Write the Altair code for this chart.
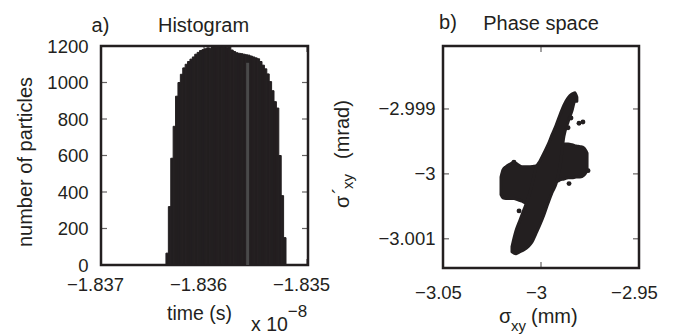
import altair as alt
import pandas as pd

INK = "#231f20"
GREY = "#4a4a4a"
FONT = "Liberation Sans"

# ---------------- panel a) histogram ----------------
bin_time = [-1.8363573, -1.8363340, -1.8363107, -1.8362874, -1.8362641, -1.8362408,
            -1.8362175, -1.8361942, -1.8361709, -1.8361476, -1.8361243, -1.8361010,
            -1.8360777, -1.8360544, -1.8360311, -1.8360078, -1.8359845, -1.8359612,
            -1.8359379, -1.8359146, -1.8358913, -1.8358680, -1.8358447, -1.8358214,
            -1.8357981, -1.8357748, -1.8357515, -1.8357282, -1.8357049, -1.8356816,
            -1.8356583, -1.8356350, -1.8356117, -1.8355884, -1.8355651, -1.8355418,
            -1.8355185, -1.8354952, -1.8354719, -1.8354486, -1.8354253, -1.8354020,
            -1.8353787, -1.8353554, -1.8353321, -1.8353088, -1.8352855, -1.8352622,
            -1.8352389, -1.8352156]
bin_count = [65, 320, 585, 760, 925, 1000, 1045, 1080, 1100, 1115,
             1128, 1140, 1155, 1165, 1175, 1180, 1185, 1190, 1188, 1195,
             1192, 1198, 1205, 1195, 1200, 1193, 1205, 1178, 1170, 1163,
             1160, 1158, 1155, 1152, 1150, 1145, 1140, 1135, 1130, 1115,
             1095, 1075, 1047, 1005, 955, 895, 860, 600, 380, 150]
bin_half_width = 0.0000120
marker_time = [-1.835576]
marker_count = [1108]
a_xticks = [-1.837, -1.836, -1.835]
a_yticks = [0, 200, 400, 600, 800, 1000, 1200]

# ---------------- panel b) phase space ----------------
band_x = [-3.0148, -3.0128, -3.0107, -3.0087, -3.0066, -3.0046, -3.0026, -3.0005, -2.9985,
          -2.9964, -2.9944, -2.9923, -2.9903, -2.9883, -2.9862, -2.9842, -2.9827, -2.9817]
band_top = [-3.00112, -3.00088, -3.00071, -3.00055, -3.00038, -3.00017, -2.99991, -2.99980, -2.99968,
            -2.99955, -2.99940, -2.99925, -2.99909, -2.99894, -2.99883, -2.99877, -2.99875, -2.99882]
band_bottom = [-3.00120, -3.00123, -3.00120, -3.00117, -3.00112, -3.00105, -3.00092, -3.00078, -3.00063,
               -3.00045, -3.00029, -3.00015, -2.99988, -2.99942, -2.99920, -2.99903, -2.99888, -2.99888]
core_x = [-3.0204, -3.0194, -3.0179, -3.0158, -3.0138, -3.0117, -3.0097, -3.0077, -3.0056, -3.0026,
          -2.9985, -2.9944, -2.9913, -2.9903, -2.9883, -2.9862, -2.9842, -2.9821, -2.9801, -2.9781, -2.9765]
core_top = [-3.00005, -2.99994, -2.99989, -2.99985, -2.99982, -2.99986, -2.99989, -2.99989, -2.99989, -2.99988,
            -2.99985, -2.99980, -2.99965, -2.99957, -2.99954, -2.99954, -2.99955, -2.99957, -2.99958, -2.99960, -2.99968]
core_bottom = [-3.00032, -3.00037, -3.00038, -3.00038, -3.00038, -3.00040, -3.00042, -3.00045, -3.00042, -3.00034,
               -3.00023, -3.00014, -3.00011, -3.00009, -3.00008, -3.00006, -3.00006, -3.00005, -3.00005, -3.00002, -2.99995]
stray_x = [-2.9847, -2.9806, -2.9786, -2.9862, -2.9760, -2.9857, -3.0112, -3.0138]
stray_y = [-2.99914, -2.99922, -2.99920, -2.99929, -2.99995, -3.00015, -3.00057, -2.99982]
b_xticks = [-3.05, -3.0, -2.95]
b_yticks = [-3.001, -3.0, -2.999]

WA, HA = 207, 219
WB, HB = 196, 222


def label(text, x, y, size=20, angle=0, align="center"):
    return alt.Chart(pd.DataFrame({"t": [text]})).mark_text(
        x=x, y=y, fontSize=size, angle=angle, align=align,
        baseline="alphabetic", font=FONT, color=INK
    ).encode(text="t:N")


def axis(vals, fmt, pad, offset=0):
    return alt.Axis(values=vals, format=fmt, title=None, ticks=False, domain=False, grid=False,
                    labelPadding=pad, labelOffset=offset, labelFlush=False, labelOverlap=False,
                    labelFont=FONT, labelFontSize=18.5, labelColor=INK)


def inner_ticks(xvals, yvals, xs, ys, xaxis, yaxis, w, h):
    dx = pd.DataFrame({"v": xvals})
    dy = pd.DataFrame({"v": yvals})
    out = []
    for yy in (3, h - 3):
        out.append(alt.Chart(dx).mark_tick(color=INK, size=6, thickness=1.2, orient="vertical")
                   .encode(x=alt.X("v:Q", scale=xs, axis=xaxis), y=alt.value(yy)))
    for xx in (3, w - 3):
        out.append(alt.Chart(dy).mark_tick(color=INK, size=6, thickness=1.2, orient="horizontal")
                   .encode(y=alt.Y("v:Q", scale=ys, axis=yaxis), x=alt.value(xx)))
    return out


# ----- panel a -----
xa = alt.Scale(domain=[-1.837, -1.83499], nice=False, zero=False)
ya = alt.Scale(domain=[0, 1200], nice=False, zero=False)
ax_a = axis(a_xticks, "~g", 10, -6)
ay_a = axis(a_yticks, "d", 13)

hist_df = pd.DataFrame({"time": bin_time, "count": bin_count})
bars = alt.Chart(hist_df).transform_calculate(
    lo=f"datum.time - {bin_half_width}", hi=f"datum.time + {bin_half_width}", base="0"
).mark_rect(color=INK, stroke=INK, strokeWidth=1, clip=True).encode(
    x=alt.X("lo:Q", scale=xa, axis=ax_a),
    x2="hi:Q",
    y=alt.Y("count:Q", scale=ya, axis=ay_a),
    y2="base:Q",
)
marker = alt.Chart(pd.DataFrame({"time": marker_time, "count": marker_count})).transform_calculate(
    base="0").mark_rule(color=GREY, strokeWidth=3).encode(
    x=alt.X("time:Q", scale=xa, axis=ax_a), y=alt.Y("count:Q", scale=ya, axis=ay_a), y2="base:Q")

panel_a = alt.layer(
    bars, marker,
    *inner_ticks(a_xticks, a_yticks, xa, ya, ax_a, ay_a, WA, HA),
    label("a)", -0.5, -14.5),
    label("Histogram", 102.5, -14),
    label("time (s)", 98.5, 274, 19.5),
    label("x 10", 150, 285, 19.5, align="left"),
    label("\u22128", 186.7, 271, 17, align="left"),
    label("number of particles", -69, 116, 20, angle=270),
).properties(width=WA, height=HA, view=alt.ViewBackground(stroke=INK, strokeWidth=2.5))

# ----- panel b -----
xb = alt.Scale(domain=[-3.05, -2.95], nice=False, zero=False)
yb = alt.Scale(domain=[-3.00145, -2.99803], nice=False, zero=False)
ax_b = axis(b_xticks, "~g", 15, -5)
ay_b = axis(b_yticks, "~g", 8)

band = alt.Chart(pd.DataFrame({"x": band_x, "top": band_top, "bottom": band_bottom})).mark_area(
    color=INK, stroke=INK, strokeWidth=3, strokeJoin="round", interpolate="monotone",
    orient="vertical", clip=True).encode(
    x=alt.X("x:Q", scale=xb, axis=ax_b),
    y=alt.Y("top:Q", scale=yb, axis=ay_b),
    y2="bottom:Q")
core = alt.Chart(pd.DataFrame({"x": core_x, "top": core_top, "bottom": core_bottom})).mark_area(
    color=INK, stroke=INK, strokeWidth=3, strokeJoin="round", interpolate="monotone",
    orient="vertical", clip=True).encode(
    x=alt.X("x:Q", scale=xb, axis=ax_b), y=alt.Y("top:Q", scale=yb, axis=ay_b), y2="bottom:Q")
strays = alt.Chart(pd.DataFrame({"x": stray_x, "y": stray_y})).mark_circle(
    color=INK, opacity=1, size=24).encode(
    x=alt.X("x:Q", scale=xb, axis=ax_b), y=alt.Y("y:Q", scale=yb, axis=ay_b))

panel_b = alt.layer(
    core, band, strays,
    *inner_ticks(b_xticks, b_yticks, xb, yb, ax_b, ay_b, WB, HB),
    label("b)", 5, -17.5),
    label("Phase space", 98, -16),
    label("\u03c3", 56, 276.5, 20, align="left"),
    label("xy", 68, 285, 15, align="left"),
    label("(mm)", 88, 276.5, 20, align="left"),
    label("\u03c3", -94, 162, 20, angle=270, align="left"),
    label("\u00b4", -96, 148, 20, angle=270, align="left"),
    label("xy", -90, 143, 15, angle=270, align="left"),
    label("(mrad)", -94, 113, 20, angle=270, align="left"),
).properties(width=WB, height=HB, view=alt.ViewBackground(stroke=INK, strokeWidth=2.5))

chart = alt.hconcat(panel_a, panel_b, spacing=-2).properties(
    padding={"left": 14, "top": 11, "right": 0, "bottom": 0}
).configure_view(stroke=INK, strokeWidth=2.5).configure(background="white")

chart.save("out.html", embed_options={"renderer": "svg", "actions": False})
